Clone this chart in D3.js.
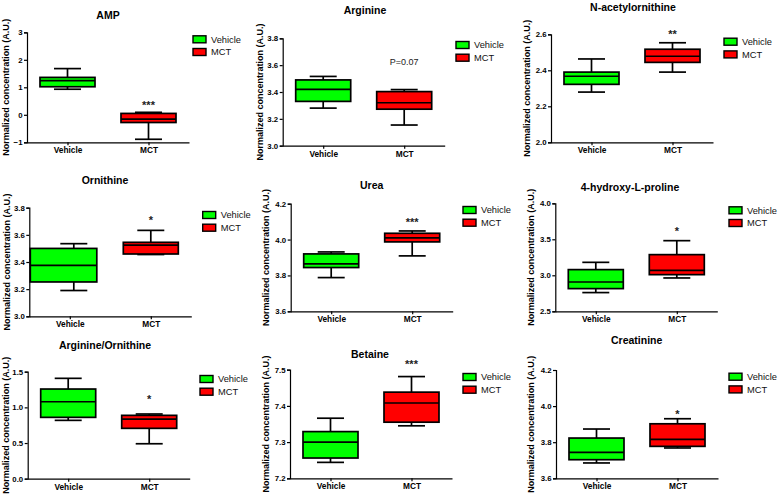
<!DOCTYPE html>
<html>
<head>
<meta charset="utf-8">
<script src="https://cdn.jsdelivr.net/npm/d3@7"></script>
<style>
  html, body { margin: 0; padding: 0; background: #fff; }
  svg { display: block; font-family: "Liberation Sans", Arial, sans-serif; }
</style>
</head>
<body>
<svg id="chart" width="778" height="494"></svg>
<script>
// ---------------- DATA ----------------
const groups = ["Vehicle", "MCT"];
const titles = ["AMP", "Arginine", "N-acetylornithine", "Ornithine", "Urea",
  "4-hydroxy-L-proline", "Arginine/Ornithine", "Betaine", "Creatinine"];
const yLabel = "Normalized concentration (A.U.)";

// five-number summaries: [min, q1, median, q3, max]
const ampVehicle = [0.93, 1.02, 1.24, 1.36, 1.68];
const ampMCT = [-0.89, -0.28, -0.16, 0.05, 0.09];
const arginineVehicle = [3.28, 3.33, 3.42, 3.49, 3.516];
const arginineMCT = [3.154, 3.272, 3.32, 3.403, 3.418];
const acetylornVehicle = [2.279, 2.322, 2.367, 2.39, 2.463];
const acetylornMCT = [2.39, 2.444, 2.478, 2.517, 2.553];
const ornithineVehicle = [3.19, 3.253, 3.375, 3.50, 3.535];
const ornithineMCT = [3.455, 3.459, 3.525, 3.545, 3.633];
const ureaVehicle = [3.788, 3.844, 3.864, 3.92, 3.931];
const ureaMCT = [3.909, 3.987, 4.009, 4.035, 4.048];
const hypVehicle = [2.76, 2.815, 2.907, 3.079, 3.18];
const hypMCT = [2.963, 3.009, 3.069, 3.287, 3.481];
const argOrnVehicle = [0.818, 0.86, 1.079, 1.257, 1.407];
const argOrnMCT = [0.49, 0.706, 0.836, 0.888, 0.907];
const betaineVehicle = [7.244, 7.256, 7.30, 7.329, 7.366];
const betaineMCT = [7.345, 7.355, 7.408, 7.438, 7.481];
const creatinineVehicle = [3.685, 3.703, 3.744, 3.823, 3.873];
const creatinineMCT = [3.768, 3.777, 3.816, 3.902, 3.93];

// y axis tick values
const ampTicks = [-1, 0, 1, 2, 3];
const arginineTicks = [3.0, 3.2, 3.4, 3.6, 3.8];
const acetylornTicks = [2.0, 2.2, 2.4, 2.6];
const ornithineTicks = [3.0, 3.2, 3.4, 3.6, 3.8];
const ureaTicks = [3.6, 3.8, 4.0, 4.2];
const hypTicks = [2.5, 3.0, 3.5, 4.0];
const argOrnTicks = [0.0, 0.5, 1.0, 1.5];
const betaineTicks = [7.2, 7.3, 7.4, 7.5];
const creatinineTicks = [3.6, 3.8, 4.0, 4.2];

const sigLabels = ["***", "P=0.07", "**", "*", "***", "*", "*", "***", "*"];
const sigValues = [0.43, 3.627, 2.611, 3.722, 4.109, 3.639, 1.15, 7.522, 3.968];

const vehicleSeries = [ampVehicle, arginineVehicle, acetylornVehicle, ornithineVehicle,
  ureaVehicle, hypVehicle, argOrnVehicle, betaineVehicle, creatinineVehicle];
const mctSeries = [ampMCT, arginineMCT, acetylornMCT, ornithineMCT,
  ureaMCT, hypMCT, argOrnMCT, betaineMCT, creatinineMCT];
const tickSets = [ampTicks, arginineTicks, acetylornTicks, ornithineTicks,
  ureaTicks, hypTicks, argOrnTicks, betaineTicks, creatinineTicks];

// ---------------- LAYOUT (pixel positions of each sub-figure) ----------------
const layout = [
  {x0: 27,    yb: 142.3, yt: 32.3,  tx: 108,   ty: 15,    lx: 193,   ly: 39.3,  lbx: 6},
  {x0: 282.7, yb: 145.7, yt: 38.3,  tx: 365,   ty: 10,    lx: 456,   ly: 45,    lbx: 260},
  {x0: 551,   yb: 142.3, yt: 34.3,  tx: 633,   ty: 7,     lx: 724,   ly: 41.7,  lbx: 527},
  {x0: 29.3,  yb: 316.3, yt: 207.7, tx: 105,   ty: 180,   lx: 202.7, ly: 215,   lbx: 6.5,
   // this sub-figure's Vehicle box is drawn wider and shifted left in the original
   vehBox: {left: -39.5, right: 27, whisker: 4}},
  {x0: 290.7, yb: 311.3, yt: 203.7, tx: 371.7, ty: 185,   lx: 463,   ly: 210,   lbx: 265.5},
  {x0: 555.3, yb: 311.3, yt: 203.3, tx: 630,   ty: 187.7, lx: 729,   ly: 210.3, lbx: 531},
  {x0: 27.7,  yb: 478.7, yt: 371.7, tx: 105,   ty: 345,   lx: 200,   ly: 379,   lbx: 6},
  {x0: 290,   yb: 478.3, yt: 369.7, tx: 370,   ty: 354,   lx: 463,   ly: 377,   lbx: 266},
  {x0: 556,   yb: 478.3, yt: 370,   tx: 636.7, ty: 340,   lx: 729,   ly: 376.7, lbx: 531}
];
const axisLen = 162, boxW = 55, capW = 27;
const colors = {Vehicle: "#00ff00", MCT: "#ff0000"};
const font = "'Liberation Sans', Arial, sans-serif";

const svg = d3.select("#chart");

titles.forEach((title, i) => {
  const L = layout[i];
  const ticks = tickSets[i];
  const g = svg.append("g");

  const y = d3.scaleLinear()
    .domain([ticks[0], ticks[ticks.length - 1]])
    .range([L.yb, L.yt]);
  const x = d3.scalePoint()
    .domain(groups)
    .range([L.x0, L.x0 + axisLen])
    .padding(0.5);

  const allInt = ticks.every(Number.isInteger);
  const ya = g.append("g")
    .attr("transform", `translate(${L.x0},0)`)
    .call(d3.axisLeft(y).tickValues(ticks).tickSize(3).tickPadding(1.5)
      .tickFormat(d3.format(allInt ? "d" : ".1f")));
  ya.select(".domain").attr("stroke", "#000").attr("stroke-width", 1.2);
  ya.selectAll(".tick line").attr("stroke", "#000").attr("stroke-width", 1.2);
  ya.selectAll(".tick text").attr("font-family", font).attr("font-size", 7.8)
    .attr("font-weight", "bold").attr("fill", "#000");

  const xa = g.append("g")
    .attr("transform", `translate(0,${L.yb})`)
    .call(d3.axisBottom(x).tickSize(3).tickSizeOuter(0).tickPadding(2));
  xa.select(".domain").attr("stroke", "#000").attr("stroke-width", 1.2);
  xa.selectAll(".tick line").attr("stroke", "#000").attr("stroke-width", 1.2);
  xa.selectAll(".tick text").attr("font-family", font).attr("font-size", 8.3)
    .attr("font-weight", "bold").attr("fill", "#000");

  const series = [vehicleSeries[i], mctSeries[i]];
  groups.forEach((grp, k) => {
    const [mn, q1, md, q3, mx] = series[k];
    const cx = x(grp);
    const ov = (k === 0 && L.vehBox) ? L.vehBox : {left: -boxW / 2, right: boxW / 2, whisker: 0};
    const wx = cx + ov.whisker;
    const bg = g.append("g").attr("stroke", "#000").attr("stroke-width", 1.7);
    bg.append("line").attr("x1", wx).attr("x2", wx).attr("y1", y(mx)).attr("y2", y(q3));
    bg.append("line").attr("x1", wx).attr("x2", wx).attr("y1", y(q1)).attr("y2", y(mn));
    bg.append("line").attr("x1", wx - capW / 2).attr("x2", wx + capW / 2).attr("y1", y(mx)).attr("y2", y(mx));
    bg.append("line").attr("x1", wx - capW / 2).attr("x2", wx + capW / 2).attr("y1", y(mn)).attr("y2", y(mn));
    bg.append("rect").attr("x", cx + ov.left).attr("width", ov.right - ov.left)
      .attr("y", y(q3)).attr("height", y(q1) - y(q3)).attr("fill", colors[grp]);
    bg.append("line").attr("x1", cx + ov.left).attr("x2", cx + ov.right).attr("y1", y(md)).attr("y2", y(md));
  });

  const isStar = sigLabels[i].startsWith("*");
  g.append("text")
    .attr("x", x("MCT"))
    .attr("y", y(sigValues[i]) + (isStar ? 6 : 3.2))
    .attr("text-anchor", "middle")
    .attr("font-family", font)
    .attr("font-size", isStar ? 11 : 9)
    .attr("font-weight", isStar ? "bold" : "normal")
    .attr("fill", "#222")
    .text(sigLabels[i]);

  g.append("text")
    .attr("x", L.tx).attr("y", L.ty)
    .attr("dy", "0.35em")
    .attr("text-anchor", "middle")
    .attr("font-family", font).attr("font-size", 10.5).attr("font-weight", "bold")
    .text(title);

  g.append("text")
    .attr("transform", `translate(${L.lbx},${(L.yb + L.yt) / 2}) rotate(-90)`)
    .attr("dy", "0.35em")
    .attr("text-anchor", "middle")
    .attr("font-family", font).attr("font-size", 9).attr("font-weight", "bold")
    .text(yLabel);

  groups.forEach((grp, k) => {
    const cy = L.ly + k * 12.7;
    g.append("rect").attr("x", L.lx).attr("y", cy - 3.5).attr("width", 13).attr("height", 7)
      .attr("fill", colors[grp]).attr("stroke", "#000").attr("stroke-width", 1.4);
    g.append("text").attr("x", L.lx + 18).attr("y", cy).attr("dy", "0.35em")
      .attr("font-family", font).attr("font-size", 9.3).attr("fill", "#111")
      .text(grp);
  });
});
</script>
</body>
</html>
